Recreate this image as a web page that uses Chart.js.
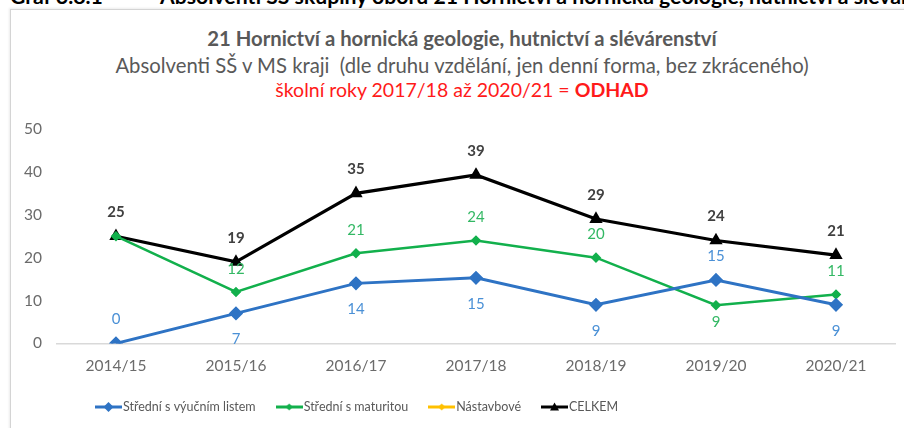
<!DOCTYPE html>
<html>
<head>
<meta charset="utf-8">
<script src="https://cdn.jsdelivr.net/npm/chart.js@4.4.1/dist/chart.umd.min.js"></script>
<style>
  html, body { margin: 0; padding: 0; background: #fff; }
  body { width: 904px; height: 428px; overflow: hidden; position: relative; font-family: Lato, "Open Sans", sans-serif; }
  .frame { position: absolute; left: 10px; top: 9px; width: 1000px; height: 600px; border-left: 1px solid #d4d4d4; border-top: 1px solid #d4d4d4; box-shadow: -1px -1px 2px rgba(0,0,0,0.08); }
  .wrap { position: absolute; left: 0; top: 0; width: 904px; height: 428px; }
  .cap { position: absolute; top: -17px; line-height: 26px; font-weight: bold; font-size: 21.2px; color: #000; white-space: nowrap; }
  .hdr { position: absolute; left: 0; width: 924px; line-height: 24px; text-align: center; white-space: nowrap; color: #595959; }
  .t1 { top: 26px; font-size: 20.3px; font-weight: bold; }
  .t2 { top: 53px; font-size: 20.3px; }
  .t3 { top: 78px; font-size: 19.5px; color: #ff1a1a; }
</style>
</head>
<body>
<div class="frame"></div>
<div class="cap" style="left:10px">Graf 3.8.1</div>
<div class="cap" style="left:160px">Absolventi SŠ skupiny oborů 21 Hornictví a hornická geologie, hutnictví a slévárenství</div>
<div class="hdr t1">21 Hornictví a hornická geologie, hutnictví a slévárenství</div>
<div class="hdr t2">Absolventi SŠ v MS kraji&nbsp; (dle druhu vzdělání, jen denní forma, bez zkráceného)</div>
<div class="hdr t3">školní roky 2017/18 až 2020/21 = <b>ODHAD</b></div>
<div class="wrap"><canvas id="chart" width="904" height="428"></canvas></div>
<script>
// skolni roky
const years = ['2014/15', '2015/16', '2016/17', '2017/18', '2018/19', '2019/20', '2020/21'];

// absolventi podle druhu vzdelani
const vyucni = [0, 7, 14, 15.3, 9, 14.8, 9];
const maturita = [25, 12, 21, 24, 20, 8.9, 11.4];
const nastavbove = [null, null, null, null, null, null, null];
const celkem = [25, 19, 35, 39.3, 29, 24, 20.6];

const yTicks = [0, 10, 20, 30, 40, 50];

const FONT = 'Lato, "Open Sans", sans-serif';

// legend symbol: line with marker in the middle
function legendIcon(color, style, r) {
  const c = document.createElement('canvas');
  c.width = 27; c.height = 12;
  const g = c.getContext('2d');
  g.strokeStyle = color; g.fillStyle = color; g.lineWidth = 3;
  g.beginPath(); g.moveTo(0, 6); g.lineTo(27, 6); g.stroke();
  g.beginPath();
  if (style === 'triangle') {
    g.moveTo(13.5, 6 - r); g.lineTo(13.5 + r, 6 + r * 0.8); g.lineTo(13.5 - r, 6 + r * 0.8);
  } else {
    g.moveTo(13.5, 6 - r); g.lineTo(13.5 + r, 6); g.lineTo(13.5, 6 + r); g.lineTo(13.5 - r, 6);
  }
  g.closePath(); g.fill();
  return c;
}

// value labels, drawn above or below each point
const pointLabels = {
  id: 'pointLabels',
  afterDatasetsDraw(chart) {
    const ctx = chart.ctx;
    chart.data.datasets.forEach((ds, i) => {
      if (!ds.labelPos) return;
      const meta = chart.getDatasetMeta(i);
      ctx.save();
      ctx.font = (ds.labelBold ? 'bold ' : '') + '15px ' + FONT;
      ctx.fillStyle = ds.labelColor;
      ctx.textAlign = 'center';
      ctx.textBaseline = 'middle';
      meta.data.forEach((pt, j) => {
        const pos = ds.labelPos[j];
        const v = ds.data[j];
        if (!pos || v == null) return;
        const dy = pos === 'above' ? -ds.labelOffset[0] : ds.labelOffset[1];
        ctx.fillText(String(Math.round(v)), pt.x, pt.y + dy);
      });
      ctx.restore();
    });
  }
};

// legend row under the chart (line + marker, label)
const legendRow = {
  id: 'legendRow',
  afterDraw(chart) {
    const ctx = chart.ctx;
    ctx.save();
    ctx.font = '12.5px ' + FONT;
    ctx.fillStyle = '#595959';
    ctx.textBaseline = 'middle';
    let x = 95;
    const y = 407;
    chart.data.datasets.forEach(ds => {
      ctx.drawImage(ds.icon, x, y - 6);
      x += 28;
      ctx.fillText(ds.label, x, y);
      x += ctx.measureText(ds.label).width + 20;
    });
    ctx.restore();
  }
};

new Chart(document.getElementById('chart'), {
  type: 'line',
  data: {
    labels: years,
    datasets: [
      {
        label: 'Střední s výučním listem',
        data: vyucni,
        borderColor: '#2e73c4',
        backgroundColor: '#2e73c4',
        borderWidth: 3,
        pointStyle: 'rectRot',
        pointRadius: 5,
        icon: legendIcon('#2e73c4', 'diamond', 5),
        labelColor: '#4a90d6',
        labelOffset: [24, 26],
        labelPos: ['above', 'below', 'below', 'below', 'below', 'above', 'below']
      },
      {
        label: 'Střední s maturitou',
        data: maturita,
        borderColor: '#12b04c',
        backgroundColor: '#12b04c',
        borderWidth: 2.5,
        pointStyle: 'rectRot',
        pointRadius: 3.5,
        icon: legendIcon('#12b04c', 'diamond', 3.5),
        labelColor: '#33b864',
        labelOffset: [23, 17],
        labelPos: [null, 'above', 'above', 'above', 'above', 'below', 'above']
      },
      {
        label: 'Nástavbové',
        data: nastavbove,
        borderColor: '#ffc000',
        backgroundColor: '#ffc000',
        borderWidth: 2.5,
        pointStyle: 'rectRot',
        pointRadius: 3.5,
        icon: legendIcon('#ffc000', 'diamond', 3.5)
      },
      {
        label: 'CELKEM',
        data: celkem,
        borderColor: '#000000',
        backgroundColor: '#000000',
        borderWidth: 3.2,
        pointStyle: 'triangle',
        pointRadius: 4.5,
        icon: legendIcon('#000000', 'triangle', 4.5),
        labelColor: '#404040',
        labelBold: true,
        labelOffset: [24, 20],
        labelPos: ['above', 'above', 'above', 'above', 'above', 'above', 'above']
      }
    ]
  },
  options: {
    responsive: false,
    animation: false,
    layout: { padding: { top: 129, left: 10, right: 8, bottom: 40 } },
    elements: { line: { tension: 0 } },
    scales: {
      x: {
        offset: true,
        grid: { display: false, drawTicks: false },
        border: { display: false },
        ticks: { color: '#6b6b6b', font: { family: FONT, size: 15.5 }, padding: 13, maxRotation: 0 }
      },
      y: {
        min: 0,
        max: 50,
        afterBuildTicks: (axis) => { axis.ticks = yTicks.map(v => ({ value: v })); },
        grid: {
          drawTicks: false,
          color: (c) => c.tick && c.tick.value === 0 ? '#d9d9d9' : 'transparent',
          lineWidth: 1.5
        },
        border: { display: false },
        ticks: { color: '#6b6b6b', font: { family: FONT, size: 15.5 }, padding: 14 }
      }
    },
    plugins: {
      title: { display: false },
      tooltip: { enabled: false },
      legend: { display: false }
    }
  },
  plugins: [pointLabels, legendRow]
});
</script>
</body>
</html>
